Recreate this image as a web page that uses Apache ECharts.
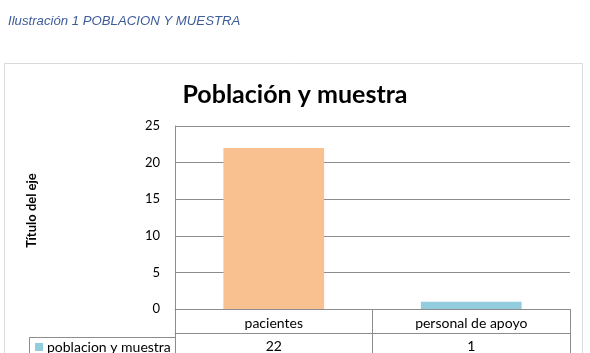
<!DOCTYPE html>
<html>
<head>
   <meta charset="utf-8">
   <title>Población y muestra</title>
   <script src="https://cdn.jsdelivr.net/npm/echarts@6/dist/echarts.min.js"></script>
   <style>
      html, body {margin: 0; padding: 0; background: #fff;}
      #chart {width: 590px; height: 353px;}
   </style>
</head>
<body>
<div id="chart"></div>
<script>
   // datos del grafico
   var categorias = ['pacientes', 'personal de apoyo'];
   var valores = [22, 1];
   var serieNombre = 'poblacion y muestra';
   var ejeY = {min: 0, max: 25, interval: 5};

   var fuente = 'Lato, "Open Sans", sans-serif';
   var gris = '#8c8c8c';

   var option = {
      animation: false,
      title: [
         {text: 'Ilustración 1 POBLACION Y MUESTRA', left: 3, top: 10,
            textStyle: {fontFamily: '"Liberation Sans", Arial, sans-serif', fontStyle: 'italic', fontWeight: 'normal', fontSize: 13.2, color: '#3e5c9a'}},
         {text: 'Población y muestra', left: 290, textAlign: 'center', top: 77,
            textStyle: {fontFamily: fuente, fontWeight: 'bold', fontSize: 25, color: '#000'}}
      ],
      legend: {
         data: [serieNombre], left: 35, top: 340, padding: 0, itemWidth: 8, itemHeight: 8, itemGap: 4,
         icon: 'rect', selectedMode: false,
         textStyle: {fontFamily: fuente, fontSize: 14, color: '#000', padding: [0, 0, 0, -1]}
      },
      grid: {left: 175, top: 126, width: 395, height: 187},
      xAxis: [
         {type: 'category', data: categorias, position: 'bottom',
            axisLine: {lineStyle: {color: gris}},
            axisTick: {show: true, interval: 0, length: 50, lineStyle: {color: gris}},
            axisLabel: {interval: 0, margin: 7, fontFamily: fuente, fontSize: 14, color: '#000'}},
         {type: 'category', data: categorias, position: 'bottom', offset: 24,
            axisLine: {lineStyle: {color: gris}},
            axisTick: {show: false},
            axisLabel: {interval: 0, margin: 6, fontFamily: fuente, fontSize: 14, color: '#000',
               formatter: function (v, i) { return String(valores[i]); }}}
      ],
      yAxis: {
         type: 'value', min: ejeY.min, max: ejeY.max, interval: ejeY.interval,
         name: 'Título del eje', nameLocation: 'middle', nameGap: 137,
         nameTextStyle: {fontFamily: fuente, fontWeight: 'bold', fontSize: 13, color: '#000', padding: [0, 0, 0, 14]},
         axisLine: {show: true, lineStyle: {color: gris}},
         axisTick: {show: false},
         axisLabel: {margin: 15, fontFamily: fuente, fontSize: 13, color: '#000'},
         splitLine: {lineStyle: {color: gris}}
      },
      series: [{
         name: serieNombre, type: 'bar', barWidth: '51%',
         itemStyle: {color: '#93cddd'},
         data: valores.map(function (v, i) {
            return i === 0 ? {value: v, itemStyle: {color: '#f9c090'}} : v;
         })
      }],
      graphic: [
         {type: 'rect', shape: {x: 4.5, y: 63.5, width: 578, height: 310}, style: {fill: 'none', stroke: '#d9d9d9', lineWidth: 1}},
         {type: 'line', shape: {x1: 29.5, y1: 337.5, x2: 175, y2: 337.5}, style: {stroke: gris, lineWidth: 1}},
         {type: 'line', shape: {x1: 29.5, y1: 337.5, x2: 29.5, y2: 360}, style: {stroke: gris, lineWidth: 1}}
      ]
   };

   var chart = echarts.init(document.getElementById('chart'));
   chart.setOption(option);
</script>
</body>
</html>
